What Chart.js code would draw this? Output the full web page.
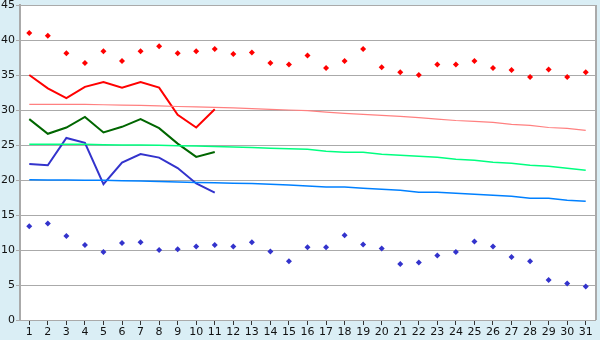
<!DOCTYPE html>
<html>
<head>
<meta charset="utf-8">
<script src="https://cdn.jsdelivr.net/npm/chart.js@4"></script>
<style>
  html, body { margin: 0; padding: 0; background: #daeef5; }
  #wrap { width: 600px; height: 340px; }
</style>
</head>
<body>
<div id="wrap"><canvas id="chart" width="600" height="340"></canvas></div>
<script>
const days = ['1','2','3','4','5','6','7','8','9','10','11','12','13','14','15','16','17','18','19','20','21','22','23','24','25','26','27','28','29','30','31'];

// record highs / lows (markers)
const recordHigh = [41.0, 40.6, 38.1, 36.7, 38.4, 37.0, 38.4, 39.1, 38.1, 38.4, 38.7, 38.0, 38.2, 36.7, 36.5, 37.8, 36.0, 37.0, 38.7, 36.1, 35.4, 35.0, 36.5, 36.5, 37.0, 36.0, 35.7, 34.7, 35.8, 34.7, 35.4];
const recordLow = [13.4, 13.8, 12.0, 10.7, 9.7, 11.0, 11.1, 10.0, 10.1, 10.5, 10.7, 10.5, 11.1, 9.8, 8.4, 10.4, 10.4, 12.1, 10.8, 10.2, 8.0, 8.2, 9.2, 9.7, 11.2, 10.5, 9.0, 8.4, 5.7, 5.2, 4.8];

// this month (first 11 days)
const maxTemp = [35.0, 33.1, 31.7, 33.3, 34.0, 33.2, 34.0, 33.2, 29.3, 27.5, 30.1];
const meanTemp = [28.7, 26.6, 27.5, 29.0, 26.8, 27.6, 28.7, 27.4, 25.2, 23.3, 24.0];
const minTemp = [22.3, 22.1, 26.0, 25.3, 19.4, 22.5, 23.7, 23.2, 21.7, 19.5, 18.2];

// normals
const normalMax = [30.8, 30.8, 30.8, 30.8, 30.75, 30.7, 30.65, 30.6, 30.5, 30.45, 30.38, 30.3, 30.2, 30.1, 30.0, 29.9, 29.71, 29.52, 29.38, 29.24, 29.1, 28.9, 28.7, 28.5, 28.38, 28.24, 27.95, 27.8, 27.5, 27.38, 27.1];
const normalMean = [25.1, 25.1, 25.1, 25.1, 25.05, 25.0, 25.0, 24.95, 24.9, 24.85, 24.8, 24.7, 24.65, 24.55, 24.45, 24.38, 24.1, 23.95, 23.95, 23.67, 23.52, 23.38, 23.24, 22.95, 22.81, 22.52, 22.38, 22.1, 21.95, 21.67, 21.38];
const normalMin = [20.05, 20.0, 20.0, 19.95, 19.95, 19.9, 19.85, 19.8, 19.7, 19.65, 19.6, 19.55, 19.5, 19.4, 19.3, 19.14, 19.0, 19.0, 18.81, 18.67, 18.52, 18.24, 18.24, 18.1, 17.95, 17.81, 17.67, 17.38, 17.38, 17.1, 16.95];

const yTicks = [0, 5, 10, 15, 20, 25, 30, 35, 40, 45];

// white plot area + right border
const plotBg = {
  id: 'plotBg',
  beforeDraw(chart) {
    const { ctx, chartArea: a } = chart;
    ctx.save();
    ctx.fillStyle = '#daeef5';
    ctx.fillRect(0, 0, chart.width, chart.height);
    ctx.fillStyle = '#ffffff';
    ctx.fillRect(a.left, a.top, a.right - a.left, a.bottom - a.top);
    ctx.restore();
  },
  afterDraw(chart) {
    const { ctx, chartArea: a } = chart;
    ctx.save();
    ctx.strokeStyle = '#aaaaaa';
    ctx.lineWidth = 2;
    ctx.beginPath();
    ctx.moveTo(a.right + 1, a.top);
    ctx.lineTo(a.right + 1, a.bottom);
    ctx.stroke();
    ctx.restore();
  }
};

function lineSet(data, color, width) {
  return {
    data: data,
    borderColor: color,
    backgroundColor: color,
    borderWidth: width,
    pointRadius: 0,
    tension: 0,
    fill: false
  };
}

function markerSet(data, color) {
  return {
    data: data,
    showLine: false,
    borderColor: color,
    backgroundColor: color,
    pointStyle: 'rectRot',
    pointRadius: 3,
    pointBorderWidth: 0
  };
}

new Chart(document.getElementById('chart'), {
  type: 'line',
  data: {
    labels: days,
    datasets: [
      markerSet(recordHigh, '#ff0000'),
      markerSet(recordLow, '#3333cc'),
      lineSet(normalMax, '#ff8080', 1.2),
      lineSet(normalMean, '#00ff80', 1.5),
      lineSet(normalMin, '#0080ff', 1.5),
      lineSet(maxTemp, '#ff0000', 2),
      lineSet(meanTemp, '#006600', 2),
      lineSet(minTemp, '#3333cc', 2)
    ]
  },
  options: {
    responsive: false,
    animation: false,
    devicePixelRatio: 1,
    layout: { padding: { left: 0, right: 5, top: 5, bottom: 0 } },
    plugins: { legend: { display: false }, tooltip: { enabled: false } },
    scales: {
      x: {
        offset: true,
        grid: { display: true, drawOnChartArea: false, drawTicks: true, tickLength: 5, color: '#333333', offset: false },
        border: { display: true, color: '#aaaaaa', width: 1 },
        ticks: { color: '#111111', font: { family: 'DejaVu Sans', size: 11 }, padding: 1, maxRotation: 0, autoSkip: false },
        afterFit(scale) { scale.height = 20; scale.paddingLeft = 0; scale.paddingRight = 0; }
      },
      y: {
        min: 0,
        max: 45,
        afterBuildTicks(scale) { scale.ticks = yTicks.map(v => ({ value: v })); },
        grid: { color: '#aaaaaa', lineWidth: 1, tickLength: 4, drawTicks: true },
        border: { display: true, color: '#aaaaaa', width: 2 },
        ticks: { color: '#111111', font: { family: 'DejaVu Sans', size: 11 }, padding: 1 },
        afterFit(scale) { scale.width = 20; scale.paddingTop = 0; scale.paddingBottom = 0; }
      }
    }
  },
  plugins: [plotBg]
});
</script>
</body>
</html>
